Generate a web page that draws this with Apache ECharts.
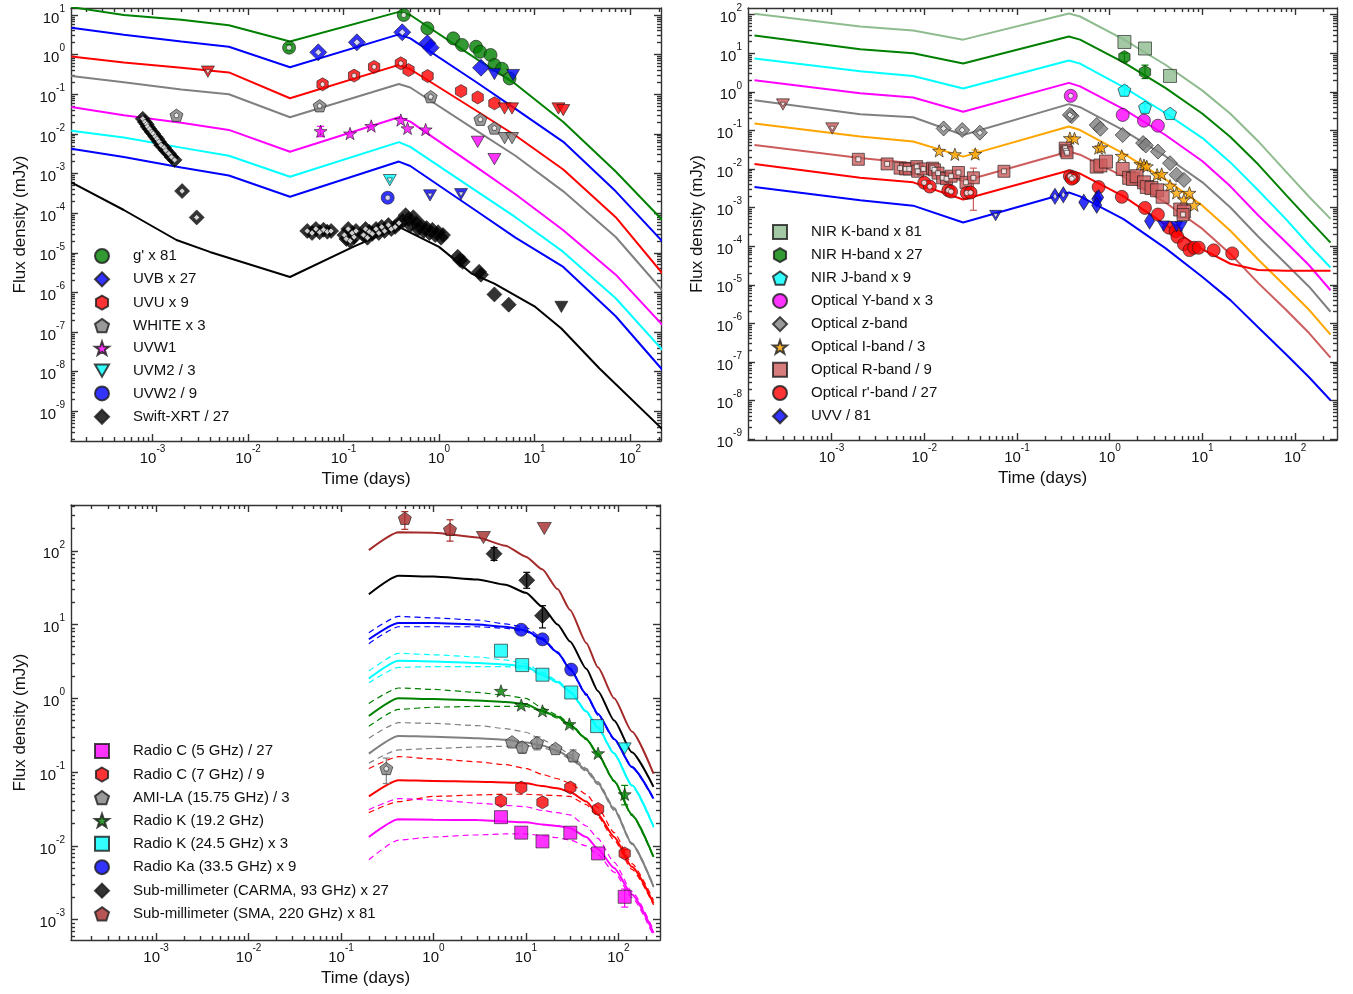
<!DOCTYPE html>
<html><head><meta charset="utf-8">
<script src="https://cdn.jsdelivr.net/npm/echarts@6/dist/echarts.min.js"></script>
<style>html,body{margin:0;padding:0;background:#fff}#c{width:1353px;height:994px}</style>
</head><body><div id="c"></div>
<script>
// ================= Panel A (top-left) =================
const tA = [1.41e-4, 5.0e-4, 2.0e-3, 6.3e-3, 0.0275, 0.38, 0.50, 2.51, 6.31, 20.0, 70.8, 219];
const mA_g    = [15.8, 10.0, 7.59, 5.50, 2.14, 12.0, 10.0, 0.759, 0.182, 0.0200, 1.12e-3, 6.6e-5];
const mA_uvb  = [4.79, 3.16, 2.14, 1.58, 0.479, 3.24, 2.57, 0.195, 0.0427, 6.3e-3, 3.55e-4, 1.91e-5];
const mA_uvu  = [0.891, 0.631, 0.468, 0.355, 0.0794, 0.550, 0.427, 0.0372, 9.1e-3, 1.26e-3, 7.9e-5, 3.0e-6];
const mA_wht  = [0.288, 0.200, 0.132, 0.100, 0.0263, 0.182, 0.148, 0.0117, 2.8e-3, 3.55e-4, 2.5e-5, 1.1e-6];
const mA_uvw1 = [0.0479, 0.0295, 0.0191, 0.0126, 3.55e-3, 0.0263, 0.0204, 1.41e-3, 3.0e-4, 3.7e-5, 2.8e-6, 1.5e-7];
const mA_uvm2 = [0.0120, 8.1e-3, 4.5e-3, 2.8e-3, 8.3e-4, 6.2e-3, 4.7e-3, 3.5e-4, 7.9e-5, 1.05e-5, 7.1e-7, 3.5e-8];
const mA_uvw2 = [4.2e-3, 2.6e-3, 1.41e-3, 8.9e-4, 2.6e-4, 2.0e-3, 1.55e-3, 1.1e-4, 2.4e-5, 4.4e-6, 2.5e-7, 1.1e-8];
const tA_x    = [1.41e-4, 5.0e-4, 1.78e-3, 3.98e-3, 0.0275, 0.126, 0.38, 1.0, 2.19, 3.8, 10.2, 19.1, 47.9, 219];
const mA_xrt  = [6.0e-4, 1.2e-4, 2.1e-5, 1.05e-5, 2.45e-6, 1.41e-5, 4.5e-5, 1.41e-5, 3.0e-6, 1.66e-6, 4.3e-7, 1.23e-7, 1.2e-8, 3.5e-10];

const gFill = [[0.755,4.61],[1.41,2.57],[1.74,1.75],[2.44,1.58],[2.69,1.18],[3.46,0.98],[3.80,0.55],[4.56,0.44],[5.48,0.25]];
const gOpen = [[0.0269,1.50],[0.427,10.0]];
const uvbFill = [[0.755,1.93],[0.818,1.50],[2.75,0.468]];
const uvbOpen = [[0.0544,1.14],[0.138,2.04],[0.412,3.66]];
const uvbLim = [[3.80,0.324],[5.96,0.305]];
const uvuFill = [[0.479,0.407],[0.759,0.288],[1.70,0.120],[2.54,0.0832],[3.80,0.0589]];
const uvuOpen = [[0.0603,0.178],[0.129,0.295],[0.209,0.490],[0.398,0.603]];
const uvuLimOpen = [[3.8e-3,0.372]];
const uvuLim = [[4.86,0.0437],[5.81,0.0437],[17.8,0.0437],[20.0,0.0398]];
const whtOpen = [[1.78e-3,0.0295],[0.0562,0.0513],[0.818,0.0871],[2.71,0.0234],[3.80,0.0141]];
const whtLim = [[4.86,7.8e-3],[5.81,7.8e-3]];
const uvw1Pts = [[0.0575,0.0117],[0.117,0.0102],[0.195,0.0158],[0.398,0.0224],[0.468,0.0138],[0.724,0.0129]];
const uvw1Lim = [[2.54,6.3e-3],[3.80,2.3e-3]];
const uvm2LimOpen = [[0.305,6.8e-4]];
const uvw2Open = [[0.290,2.45e-4]];
const uvw2LimOpen = [[0.805,2.8e-4],[1.70,3.0e-4]];
const xrtOpen = [[7.9e-4,0.024],[8.3e-4,0.020],[8.7e-4,0.0174],[8.9e-4,0.0151],[9.3e-4,0.0132],[9.8e-4,0.0112],[1.02e-3,0.010],[1.07e-3,0.0085],[1.12e-3,0.0074],[1.17e-3,0.0063],[1.23e-3,0.0052],[1.32e-3,0.0045],[1.38e-3,0.0038],[1.48e-3,0.0032],[1.58e-3,0.0026],[1.70e-3,0.0022],[2.04e-3,3.6e-4],[2.9e-3,7.8e-5],
 [0.0417,3.55e-5],[0.0468,3.16e-5],[0.0513,3.98e-5],[0.0562,3.3e-5],[0.0617,3.8e-5],[0.0676,3.4e-5],[0.0741,3.55e-5],
 [0.102,2.8e-5],[0.107,2.24e-5],[0.112,3.98e-5],[0.117,2.0e-5],[0.123,3.16e-5],[0.129,2.5e-5],[0.135,3.55e-5],
 [0.162,2.8e-5],[0.170,3.98e-5],[0.178,2.4e-5],[0.186,3.4e-5],[0.200,3.0e-5],
 [0.219,3.98e-5],[0.234,3.16e-5],[0.251,4.5e-5],[0.269,3.55e-5],[0.295,5.0e-5],[0.316,3.98e-5],[0.347,4.5e-5],[0.380,5.6e-5]];
const xrtFill = [[0.417,6.3e-5],[0.447,8.9e-5],[0.479,7.1e-5],[0.501,5.0e-5],[0.537,7.9e-5],[0.575,5.6e-5],[0.603,3.98e-5],[0.646,5.0e-5],[0.692,3.55e-5],[0.741,4.2e-5],[0.794,3.16e-5],[0.851,3.8e-5],[0.912,2.8e-5],[0.977,3.3e-5],[1.05,2.4e-5],[1.10,2.8e-5],[1.57,7.9e-6],[1.66,6.6e-6],[1.77,5.9e-6],[2.63,3.3e-6],[2.75,2.8e-6],[3.80,8.9e-7],[5.37,4.9e-7]];
const xrtLim = [[19.1,4.3e-7]];
const errA_g = [[0.0269,1.25,1.8]];
const errA_uvw1 = [[0.0575,0.0085,0.0155]];

// ================= Panel B (top-right) =================
const tB = [1.48e-4, 2.04e-3, 7.6e-3, 0.0263, 0.363, 0.479, 1.41, 3.98, 10, 20, 39.8, 79.4, 141, 240];
const mB_K = [105, 49, 38.9, 22.4, 107, 89.1, 22.9, 5.01, 1.07, 0.269, 0.0525, 8.5e-3, 1.9e-3, 5.1e-4];
const mB_H = [28.8, 12.6, 10.0, 5.37, 26.9, 22.4, 5.75, 1.26, 0.269, 0.0676, 0.0132, 2.14e-3, 4.8e-4, 1.23e-4];
const mB_J = [7.24, 3.39, 2.57, 1.22, 6.46, 5.37, 1.32, 0.282, 0.0631, 0.0148, 2.8e-3, 5.0e-4, 1.07e-4, 2.8e-5];
const mB_Y = [2.0, 0.912, 0.708, 0.302, 1.70, 1.38, 0.355, 0.0759, 0.0158, 3.55e-3, 6.3e-4, 1.26e-4, 3.2e-5, 7.2e-6];
const mB_z = [0.603, 0.263, 0.219, 0.0759, 0.479, 0.398, 0.100, 0.0214, 4.5e-3, 1.0e-3, 1.78e-4, 3.5e-5, 8.9e-6, 2.0e-6];
const mB_I = [0.151, 0.0692, 0.0513, 0.0209, 0.126, 0.102, 0.0251, 5.4e-3, 1.12e-3, 2.5e-4, 4.5e-5, 8.9e-6, 2.24e-6, 5.1e-7];
const mB_R = [0.0417, 0.0191, 0.0141, 4.8e-3, 0.0282, 0.0234, 6.3e-3, 1.35e-3, 2.8e-4, 6.3e-5, 1.12e-5, 2.24e-6, 5.6e-7, 1.29e-7];
const mB_r = [0.0135, 5.9e-3, 4.5e-3, 1.62e-3, 9.1e-3, 7.6e-3, 1.95e-3, 3.6e-4, 8.3e-5, 3.5e-5, 2.4e-5, 2.3e-5, 2.3e-5, 2.3e-5];
const mB_V = [3.4e-3, 1.55e-3, 1.12e-3, 4.1e-4, 2.45e-3, 1.95e-3, 5.0e-4, 8.9e-5, 1.58e-5, 4.0e-6, 7.9e-7, 1.58e-7, 4.0e-8, 1.02e-8];

const kPts = [[1.44,19.5],[2.40,13.2],[4.47,2.57]];
const hPts = [[1.44,7.94],[2.40,3.24]];
const jPts = [[1.44,1.10],[2.40,0.398],[4.47,0.275]];
const yOpen = [[0.380,0.785]];
const yPts = [[1.38,0.251],[2.34,0.178],[3.31,0.132]];
const zOpen = [[0.0162,0.112],[0.0257,0.102],[0.0398,0.0871],[0.389,0.234],[0.372,0.251]];
const zPts = [[0.724,0.138],[0.794,0.110],[1.38,0.0759],[2.29,0.0468],[2.45,0.0407],[3.31,0.0282],[4.47,0.0141],[5.25,7.1e-3],[6.31,5.2e-3]];
const iPts = [[0.0145,0.0295],[0.0214,0.024],[0.0355,0.0245],[0.372,0.063],[0.417,0.0617],[0.759,0.0347],[0.813,0.0363],[1.35,0.0219],[2.14,0.0135],[2.34,0.0126],[2.51,0.0117],[3.24,7.1e-3],[3.63,7.4e-3],[4.47,3.7e-3],[5.25,2.4e-3],[6.31,1.62e-3],[7.24,2.4e-3],[8.13,1.15e-3]];
const rLimOpen = [[3.0e-4,0.468],[1.02e-3,0.112]];
const rOpen = [[1.95e-3,0.0178],[3.98e-3,0.0135],[5.5e-3,0.0105],[6.3e-3,0.0100],[6.9e-3,0.0100],[8.3e-3,0.0115],[8.5e-3,8.7e-3],[9.8e-3,0.0100],[0.0123,0.0105],[0.0129,9.5e-3],[0.0141,7.8e-3],[0.0158,5.9e-3],[0.0174,5.6e-3],[0.0195,6.5e-3],[0.0234,8.1e-3],[0.0282,4.5e-3],[0.0339,5.9e-3],[0.0724,8.7e-3],[0.331,0.0347],[0.339,0.0295],[0.347,0.0263],[6.17,6.6e-4]];
const rPts = [[0.724,0.0115],[0.794,0.0123],[0.912,0.0155],[1.38,0.0100],[1.62,5.9e-3],[1.78,5.5e-3],[1.95,6.5e-3],[2.34,4.5e-3],[2.51,3.4e-3],[2.82,3.2e-3],[3.24,2.8e-3],[3.72,1.9e-3],[5.75,8.9e-4],[6.31,7.9e-4]];
const rpOpen = [[0.0100,4.4e-3],[0.0115,3.5e-3],[0.0182,2.8e-3],[0.0195,2.6e-3],[0.0288,2.4e-3],[0.0316,2.45e-3],[0.372,6.5e-3],[0.407,6.0e-3],[0.389,5.6e-3]];
const rpPts = [[0.759,3.4e-3],[1.35,1.9e-3],[2.40,9.8e-4],[3.31,6.6e-4],[4.37,3.0e-4],[5.13,2.45e-4],[5.37,1.74e-4],[6.31,1.12e-4],[7.24,7.9e-5],[8.13,9.1e-5],[9.12,9.1e-5],[13.2,7.8e-5],[20.9,6.5e-5]];
const vOpen = [[0.257,1.95e-3],[0.316,2.14e-3]];
const vLimOpen = [[0.0589,6.2e-4]];
const vPts = [[0.525,1.38e-3],[0.724,1.66e-3],[0.759,1.82e-3],[0.724,1.15e-3],[2.69,4.5e-4]];
const vLim = [[3.80,3.3e-4],[5.25,3.2e-4],[5.89,3.2e-4]];
const errB_H = [[1.44,6.0,10.0],[2.40,2.2,4.9]];
const errB_J = [[1.44,0.8,1.45],[2.40,0.3,0.5]];
const errB_R = [[0.0339,8.5e-4,0.0105]];
const errB_I = [[0.0355,0.019,0.031]];

// ================= Panel C (bottom) =================
const tC = [0.2, 0.42, 1, 3, 6, 10, 15, 22, 30, 45, 60, 90, 140, 240];
const mC_sma  = [102, 178, 176, 151, 117, 83.2, 56.2, 30.2, 15.8, 5.62, 2.63, 1.0, 0.355, 0.0955];
const mC_carma= [25.7, 45.7, 44.7, 40.7, 34.7, 26.9, 17.4, 10.0, 5.89, 2.51, 1.26, 0.501, 0.186, 0.0631];
const mC_ka   = [6.31, 10.5, 10.5, 10.0, 9.33, 8.32, 6.31, 4.17, 2.51, 1.12, 0.617, 0.282, 0.117, 0.0437];
const mC_k24  = [1.86, 3.24, 3.16, 3.02, 2.88, 2.69, 2.09, 1.66, 1.23, 0.661, 0.398, 0.178, 0.0661, 0.0182];
const mC_k19  = [0.575, 1.0, 0.977, 0.933, 0.891, 0.832, 0.676, 0.562, 0.437, 0.282, 0.174, 0.0759, 0.0263, 7.1e-3];
const mC_ami  = [0.178, 0.309, 0.302, 0.288, 0.275, 0.251, 0.229, 0.195, 0.158, 0.107, 0.0708, 0.0316, 0.0107, 2.8e-3];
const mC_c7   = [0.0468, 0.0776, 0.0759, 0.0741, 0.0724, 0.0708, 0.0646, 0.0603, 0.0537, 0.0398, 0.0269, 0.0132, 5.2e-3, 1.66e-3];
const mC_c5   = [0.0132, 0.0229, 0.0226, 0.0224, 0.0214, 0.0209, 0.0195, 0.0186, 0.0174, 0.0132, 9.1e-3, 5.0e-3, 2.19e-3, 6.6e-4];
const dC_kaU  = [7.76, 12.9, 12.3, 11.5, 10.2, 9.12, 6.61, 4.27, 2.57, 1.15, 0.617, 0.288, 0.120, 0.0447];
const dC_kaL  = [5.5, 9.33, 9.33, 9.33, 8.91, 7.94, 6.17, 4.07, 2.45, 1.10, 0.589, 0.275, 0.115, 0.0427];
const dC_k24U = [2.34, 4.07, 3.89, 3.63, 3.31, 2.95, 2.24, 1.74, 1.26, 0.676, 0.407, 0.182, 0.0676, 0.0186];
const dC_k24L = [1.62, 2.63, 2.69, 2.69, 2.69, 2.57, 2.04, 1.62, 1.20, 0.646, 0.389, 0.174, 0.0646, 0.0178];
const dC_k19U = [0.851, 1.38, 1.32, 1.20, 1.10, 1.0, 0.741, 0.589, 0.457, 0.288, 0.178, 0.0776, 0.0269, 7.2e-3];
const dC_k19L = [0.417, 0.708, 0.759, 0.776, 0.776, 0.776, 0.661, 0.537, 0.427, 0.275, 0.170, 0.0741, 0.0257, 6.9e-3];
const dC_amiU = [0.288, 0.468, 0.457, 0.427, 0.389, 0.347, 0.275, 0.219, 0.174, 0.112, 0.0741, 0.0331, 0.011, 2.9e-3];
const dC_amiL = [0.132, 0.200, 0.209, 0.219, 0.224, 0.229, 0.214, 0.186, 0.151, 0.102, 0.0676, 0.0302, 0.0105, 2.75e-3];
const dC_c7U  = [0.112, 0.162, 0.151, 0.138, 0.126, 0.112, 0.0933, 0.0813, 0.0708, 0.0501, 0.0331, 0.0151, 5.75e-3, 1.82e-3];
const dC_c7L  = [0.0282, 0.0398, 0.0468, 0.049, 0.0501, 0.0501, 0.049, 0.0479, 0.0468, 0.0363, 0.0251, 0.012, 4.8e-3, 1.58e-3];
const dC_c5U  = [0.0309, 0.0437, 0.0417, 0.038, 0.0355, 0.0339, 0.0302, 0.0282, 0.0263, 0.0186, 0.0126, 6.0e-3, 2.4e-3, 7.2e-4];
const dC_c5L  = [6.5e-3, 0.012, 0.0132, 0.0141, 0.0145, 0.0145, 0.0138, 0.0129, 0.012, 0.010, 7.6e-3, 4.4e-3, 2.0e-3, 6.0e-4];

const smaPts = [[0.49,275],[1.51,195]];
const smaLim = [[3.47,151],[15.8,200]];
const carmaPts = [[4.52,91],[10.2,39.8],[15.1,13.2]];
const kaPts = [[8.9,8.5],[15.1,6.3],[30.9,2.45]];
const k24Pts = [[5.37,4.42],[9.12,2.82],[15.1,2.09],[30.9,1.20],[58.9,0.42]];
const k24Lim = [[117,0.209]];
const k19Pts = [[5.37,1.26],[8.9,0.81],[15.1,0.676],[29.5,0.447],[60.3,0.18],[117,0.050]];
const amiPts = [[7.08,0.257],[9.12,0.219],[13.2,0.251],[20.9,0.209],[32.4,0.166]];
const amiOpen = [[0.309,0.112]];
const c7Pts = [[5.37,0.0407],[8.9,0.0617],[15.1,0.0389],[30.2,0.0617],[60.3,0.0316],[117,7.9e-3]];
const c5Pts = [[5.37,0.0245],[8.9,0.0151],[15.1,0.0115],[30.2,0.0151],[60.3,7.9e-3],[117,2.04e-3]];
const errC_sma = [[0.49,195,339],[1.51,135,263]];
const errC_carma = [[4.52,74,110],[10.2,31,51],[15.1,9,18]];
const errC_ami = [[0.309,0.07,0.155],[9.12,0.18,0.25],[13.2,0.2,0.3],[32.4,0.14,0.2]];
const errC_k19 = [[117,0.036,0.066]];
const errC_c5 = [[117,1.48e-3,2.6e-3]];
const errC_c7 = [[117,7.0e-3,8.9e-3]];

// ================= helpers =================
const FONT = '"Liberation Sans", Arial, sans-serif';
const SYM = {
  hex: 'path://M0,-10L8.66,-5L8.66,5L0,10L-8.66,5L-8.66,-5Z',
  pent: 'path://M0,-10L9.51,-3.09L5.88,8.09L-5.88,8.09L-9.51,-3.09Z',
  star: 'path://M0,-10L2.35,-3.24L9.51,-3.09L3.8,1.24L5.88,8.09L0,4L-5.88,8.09L-3.8,1.24L-9.51,-3.09L-2.35,-3.24Z',
  tri: 'path://M-10,-8.66L10,-8.66L0,8.66Z'
};
const zip = (t, v) => t.map((x, i) => [x, v[i]]);
function sc(name, data, g, sym, size, color, bw, z) {
  return {type:'scatter', name, data, xAxisIndex:g, yAxisIndex:g, symbol:sym, symbolSize:size, symbolKeepAspect:true,
    itemStyle:{color, borderColor:'#1a1a1a', borderWidth:bw||0.8}, z:z||5, silent:true, emphasis:{disabled:true}};
}
// "open" markers of the reference: coloured marker with a small white core
function op(name, data, g, sym, size, color) {
  const s2 = Array.isArray(size) ? size.map(v => v * 0.4) : size * 0.4;
  return [sc(name, data, g, sym, size, color), sc(name + ' core', data, g, sym, s2, '#ffffff', 0.7, 6)];
}
function ln(name, t, v, g, color, dashed, w, sm) {
  return {type:'line', name, data:zip(t, v), xAxisIndex:g, yAxisIndex:g, symbol:'none', showSymbol:false,
    smooth:sm||false, smoothMonotone:'x', clip:true, lineStyle:{color, width:w||2, type:dashed?[6,4]:'solid'}, z:3, silent:true};
}
function eb(data, g, color) {
  return {type:'custom', xAxisIndex:g, yAxisIndex:g, data, silent:true, z:4, encode:{x:0, y:[1,2]},
    renderItem(p, api) {
      const a = api.coord([api.value(0), api.value(1)]), b = api.coord([api.value(0), api.value(2)]), w = 3.5;
      const st = {stroke:color, lineWidth:1.2};
      return {type:'group', children:[
        {type:'line', shape:{x1:a[0], y1:a[1], x2:b[0], y2:b[1]}, style:st},
        {type:'line', shape:{x1:a[0]-w, y1:a[1], x2:a[0]+w, y2:a[1]}, style:st},
        {type:'line', shape:{x1:b[0]-w, y1:b[1], x2:b[0]+w, y2:b[1]}, style:st}]};
    }};
}
function fmt(v) {
  const e = Math.log10(v), r = Math.round(e);
  if (Math.abs(e - r) > 1e-6) return '';
  return '{b|10}{s|' + r + '}';
}
const rich = {
  b:{fontSize:15, fontFamily:FONT, color:'#111', lineHeight:22, verticalAlign:'bottom'},
  s:{fontSize:10, fontFamily:FONT, color:'#111', lineHeight:22, verticalAlign:'top'}
};
function decades(e0, e1, minor) {
  const a = [];
  for (let e = e0; e <= e1; e++) {
    if (minor) { for (let k = 2; k <= 9; k++) a.push(k * Math.pow(10, e)); }
    else a.push(Math.pow(10, e));
  }
  return a;
}
const AX = {color:'#333', width:1.4};
const grids = [
  {left:71, top:8, width:590, height:433, x:[1.4e-4, 211], y:[1.78e-10, 15.0], xe:[-3,2], ye:[-9,1]},
  {left:748, top:8, width:589, height:432, x:[1.26e-4, 282], y:[9.5e-10, 148], xe:[-3,2], ye:[-9,2]},
  {left:71, top:505, width:589, height:435, x:[1.2e-4, 282], y:[5.3e-4, 417], xe:[-3,2], ye:[-3,2]}
];
const xAxes = [], yAxes = [];
grids.forEach((G, g) => {
  xAxes[g] = {type:'log', logBase:10, gridIndex:g, min:G.x[0], max:G.x[1], splitNumber:20, position:'bottom',
    axisLine:{show:true, lineStyle:AX}, axisTick:{show:true, inside:true, length:7, customValues:decades(G.xe[0], G.xe[1]), lineStyle:AX},
    axisLabel:{formatter:fmt, rich, margin:3, customValues:decades(G.xe[0], G.xe[1])}, splitLine:{show:false},
    name:'Time (days)', nameLocation:'middle', nameGap:30, nameTextStyle:{fontSize:17, fontFamily:FONT, color:'#111'}};
  yAxes[g] = {type:'log', logBase:10, gridIndex:g, min:G.y[0], max:G.y[1], splitNumber:20, position:'left',
    axisLine:{show:true, lineStyle:AX}, axisTick:{show:true, inside:true, length:7, customValues:decades(G.ye[0], G.ye[1]), lineStyle:AX},
    axisLabel:{formatter:fmt, rich, margin:6, customValues:decades(G.ye[0], G.ye[1])}, splitLine:{show:false},
    name:'Flux density (mJy)', nameLocation:'middle', nameRotate:90, nameGap:42, nameTextStyle:{fontSize:17, fontFamily:FONT, color:'#111'}};
});
grids.forEach((G, g) => {
  const base = {type:'log', logBase:10, gridIndex:g, splitNumber:20, axisLabel:{show:false}, splitLine:{show:false}};
  xAxes.push(Object.assign({}, base, {min:G.x[0], max:G.x[1], position:'top', axisLine:{show:true, lineStyle:AX}, axisTick:{inside:true, length:7, customValues:decades(G.xe[0], G.xe[1]), lineStyle:AX}}));
  xAxes.push(Object.assign({}, base, {min:G.x[0], max:G.x[1], position:'bottom', axisLine:{show:false}, axisTick:{inside:true, length:4, customValues:decades(G.xe[0]-1, G.xe[1], true), lineStyle:AX}}));
  xAxes.push(Object.assign({}, base, {min:G.x[0], max:G.x[1], position:'top', axisLine:{show:false}, axisTick:{inside:true, length:4, customValues:decades(G.xe[0]-1, G.xe[1], true), lineStyle:AX}}));
  yAxes.push(Object.assign({}, base, {min:G.y[0], max:G.y[1], position:'right', axisLine:{show:true, lineStyle:AX}, axisTick:{inside:true, length:7, customValues:decades(G.ye[0], G.ye[1]), lineStyle:AX}}));
  yAxes.push(Object.assign({}, base, {min:G.y[0], max:G.y[1], position:'left', axisLine:{show:false}, axisTick:{inside:true, length:4, customValues:decades(G.ye[0]-1, G.ye[1], true), lineStyle:AX}}));
  yAxes.push(Object.assign({}, base, {min:G.y[0], max:G.y[1], position:'right', axisLine:{show:false}, axisTick:{inside:true, length:4, customValues:decades(G.ye[0]-1, G.ye[1], true), lineStyle:AX}}));
});

const C = {green:'#008000', blue:'#0000ff', red:'#ff0000', gray:'#808080', mag:'#ff00ff', cyan:'#00ffff', black:'#000000',
  lgreen:'#8fbc8f', orange:'#ffa500', salmon:'#cd5c5c', brown:'#a52a2a'};
const SM = 0.2;

const series = [
  // ---- A lines
  ln('mA_g', tA, mA_g, 0, C.green), ln('mA_uvb', tA, mA_uvb, 0, C.blue), ln('mA_uvu', tA, mA_uvu, 0, C.red),
  ln('mA_wht', tA, mA_wht, 0, C.gray), ln('mA_uvw1', tA, mA_uvw1, 0, C.mag), ln('mA_uvm2', tA, mA_uvm2, 0, C.cyan),
  ln('mA_uvw2', tA, mA_uvw2, 0, C.blue), ln('mA_xrt', tA_x, mA_xrt, 0, C.black),
  eb(errA_g, 0, C.green), eb(errA_uvw1, 0, C.mag),
  // ---- A points
  sc("g' x 81", gFill, 0, 'circle', 13, C.green), ...op('g open', gOpen, 0, 'circle', 13, C.green),
  sc('UVB x 27', uvbFill, 0, 'diamond', [17,17], C.blue), ...op('uvb open', uvbOpen, 0, 'diamond', [17,17], C.blue),
  sc('uvb lim', uvbLim, 0, SYM.tri, 13, C.blue),
  sc('UVU x 9', uvuFill, 0, SYM.hex, 13, C.red), ...op('uvu open', uvuOpen, 0, SYM.hex, 13, C.red),
  ...op('uvu limo', uvuLimOpen, 0, SYM.tri, 13, C.red), sc('uvu lim', uvuLim, 0, SYM.tri, 13, C.red),
  sc('WHITE x 3', [], 0, SYM.pent, 13, C.gray), ...op('wht open', whtOpen, 0, SYM.pent, 13, C.gray),
  sc('wht lim', whtLim, 0, SYM.tri, 13, C.gray),
  sc('UVW1', uvw1Pts, 0, SYM.star, 13, C.mag), sc('uvw1 lim', uvw1Lim, 0, SYM.tri, 13, C.mag),
  sc('UVM2 / 3', [], 0, SYM.tri, 13, C.cyan), ...op('uvm2 limo', uvm2LimOpen, 0, SYM.tri, 13, C.cyan),
  sc('UVW2 / 9', [], 0, 'circle', 13, C.blue), ...op('uvw2 open', uvw2Open, 0, 'circle', 13, C.blue),
  ...op('uvw2 limo', uvw2LimOpen, 0, SYM.tri, 13, C.blue),
  ...op('xrt open', xrtOpen, 0, 'diamond', [15,15], C.black),
  sc('Swift-XRT / 27', xrtFill, 0, 'diamond', [15,15], C.black), sc('xrt lim', xrtLim, 0, SYM.tri, 13, C.black),
  // ---- B lines
  ln('mB_K', tB, mB_K, 1, C.lgreen), ln('mB_H', tB, mB_H, 1, C.green), ln('mB_J', tB, mB_J, 1, C.cyan),
  ln('mB_Y', tB, mB_Y, 1, C.mag), ln('mB_z', tB, mB_z, 1, C.gray), ln('mB_I', tB, mB_I, 1, C.orange),
  ln('mB_R', tB, mB_R, 1, C.salmon), ln('mB_r', tB, mB_r, 1, C.red), ln('mB_V', tB, mB_V, 1, C.blue),
  eb(errB_H, 1, C.green), eb(errB_J, 1, C.cyan), eb(errB_R, 1, C.salmon), eb(errB_I, 1, C.orange),
  // ---- B points
  sc('NIR K-band x 81', kPts, 1, 'rect', 13, C.lgreen),
  sc('NIR H-band x 27', hPts, 1, SYM.hex, 13, C.green),
  sc('NIR J-band x 9', jPts, 1, SYM.pent, 13, C.cyan),
  sc('Optical Y-band x 3', yPts, 1, 'circle', 13, C.mag), ...op('y open', yOpen, 1, 'circle', 13, C.mag),
  sc('Optical z-band', zPts, 1, 'diamond', [15,15], C.gray), ...op('z open', zOpen, 1, 'diamond', [15,15], C.gray),
  sc('Optical I-band / 3', iPts, 1, SYM.star, 13, C.orange),
  sc('Optical R-band / 9', rPts, 1, 'rect', 13, C.salmon), ...op('r open', rOpen, 1, 'rect', 12, C.salmon),
  ...op('r limo', rLimOpen, 1, SYM.tri, 13, C.salmon),
  sc("Optical r'-band / 27", rpPts, 1, 'circle', 13, C.red), ...op('rp open', rpOpen, 1, 'circle', 13, C.red),
  sc('UVV / 81', vPts, 1, 'diamond', [10,16], C.blue), ...op('v open', vOpen, 1, 'diamond', [10,16], C.blue),
  ...op('v limo', vLimOpen, 1, SYM.tri, 12, C.blue), sc('v lim', vLim, 1, SYM.tri, 12, C.blue),
  // ---- C lines
  ln('dC_kaU', tC, dC_kaU, 2, C.blue, true, 1.2, SM), ln('dC_kaL', tC, dC_kaL, 2, C.blue, true, 1.2, SM),
  ln('dC_k24U', tC, dC_k24U, 2, C.cyan, true, 1.2, SM), ln('dC_k24L', tC, dC_k24L, 2, C.cyan, true, 1.2, SM),
  ln('dC_k19U', tC, dC_k19U, 2, C.green, true, 1.2, SM), ln('dC_k19L', tC, dC_k19L, 2, C.green, true, 1.2, SM),
  ln('dC_amiU', tC, dC_amiU, 2, C.gray, true, 1.2, SM), ln('dC_amiL', tC, dC_amiL, 2, C.gray, true, 1.2, SM),
  ln('dC_c7U', tC, dC_c7U, 2, C.red, true, 1.2, SM), ln('dC_c7L', tC, dC_c7L, 2, C.red, true, 1.2, SM),
  ln('dC_c5U', tC, dC_c5U, 2, C.mag, true, 1.2, SM), ln('dC_c5L', tC, dC_c5L, 2, C.mag, true, 1.2, SM),
  ln('mC_sma', tC, mC_sma, 2, C.brown, false, 2, SM), ln('mC_carma', tC, mC_carma, 2, C.black, false, 2, SM),
  ln('mC_ka', tC, mC_ka, 2, C.blue, false, 2, SM), ln('mC_k24', tC, mC_k24, 2, C.cyan, false, 2, SM),
  ln('mC_k19', tC, mC_k19, 2, C.green, false, 2, SM), ln('mC_ami', tC, mC_ami, 2, C.gray, false, 2, SM),
  ln('mC_c7', tC, mC_c7, 2, C.red, false, 2, SM), ln('mC_c5', tC, mC_c5, 2, C.mag, false, 2, SM),
  eb(errC_sma, 2, C.brown), eb(errC_carma, 2, C.black), eb(errC_ami, 2, C.gray), eb(errC_k19, 2, C.green),
  eb(errC_c5, 2, C.mag), eb(errC_c7, 2, C.red),
  // ---- C points
  sc('Radio C (5 GHz) / 27', c5Pts, 2, 'rect', 13, C.mag),
  sc('Radio C (7 GHz) / 9', c7Pts, 2, SYM.hex, 13, C.red),
  sc('AMI-LA (15.75 GHz) / 3', amiPts, 2, SYM.pent, 13, C.gray), ...op('ami open', amiOpen, 2, SYM.pent, 13, C.gray),
  sc('Radio K (19.2 GHz)', k19Pts, 2, SYM.star, 13, C.green),
  sc('Radio K (24.5 GHz) x 3', k24Pts, 2, 'rect', 13, C.cyan), sc('k24 lim', k24Lim, 2, SYM.tri, 13, C.cyan),
  sc('Radio Ka (33.5 GHz) x 9', kaPts, 2, 'circle', 13, C.blue),
  sc('Sub-millimeter (CARMA, 93 GHz) x 27', carmaPts, 2, 'diamond', [16,16], C.black),
  sc('Sub-millimeter (SMA, 220 GHz) x 81', smaPts, 2, SYM.pent, 13, C.brown), sc('sma lim', smaLim, 2, SYM.tri, 14, C.brown)
];

function leg(names, left, top, gap) {
  return {data:names, left, top, orient:'vertical', itemWidth:14, itemHeight:14, itemGap:gap, selectedMode:false,
    textStyle:{fontSize:15, fontFamily:FONT, color:'#111', padding:[0,0,0,19], lineHeight:14}};
}
const option = {
  animation:false, backgroundColor:'#fff',
  grid: grids.map(G => ({left:G.left, top:G.top, width:G.width, height:G.height, containLabel:false, outerBoundsMode:'none'})),
  xAxis: xAxes, yAxis: yAxes,
  legend: [
    leg(["g' x 81",'UVB x 27','UVU x 9','WHITE x 3','UVW1','UVM2 / 3','UVW2 / 9','Swift-XRT / 27'], 89, 243, 7.3),
    leg(['NIR K-band x 81','NIR H-band x 27','NIR J-band x 9','Optical Y-band x 3','Optical z-band','Optical I-band / 3','Optical R-band / 9',"Optical r'-band / 27",'UVV / 81'], 767, 219, 7.2),
    leg(['Radio C (5 GHz) / 27','Radio C (7 GHz) / 9','AMI-LA (15.75 GHz) / 3','Radio K (19.2 GHz)','Radio K (24.5 GHz) x 3','Radio Ka (33.5 GHz) x 9','Sub-millimeter (CARMA, 93 GHz) x 27','Sub-millimeter (SMA, 220 GHz) x 81'], 89, 738, 7.5)
  ],
  series
};
const chart = echarts.init(document.getElementById('c'), null, {renderer:'canvas'});
chart.setOption(option);
</script>
</body></html>
